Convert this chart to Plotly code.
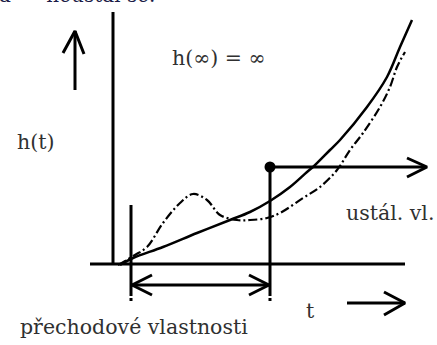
import plotly.graph_objects as go

W, H = 437, 345

# Curves (diagram coordinates: x to the right, y downward in picture pixels)
solid_x = [120, 133, 163, 197, 230, 250, 270, 290, 307, 313, 330, 340, 367, 387, 400, 412]
solid_y = [265, 258, 247, 233, 220, 212, 201, 187, 172, 167, 150, 140, 107, 77, 47, 20]

dd_x = [118, 135, 147, 163, 180, 193, 207, 220, 237, 250, 267, 280, 303, 320, 337, 350, 363, 380, 390, 397, 405]
dd_y = [265, 255, 247, 223, 203, 194, 200, 215, 220, 220, 218, 213, 198, 187, 170, 150, 133, 107, 87, 67, 52]

# Structural lines: each entry is (xs, ys)
axis_lines = [
    ([113, 113], [12, 264]),          # vertical axis
    ([90, 405], [264, 264]),          # horizontal axis
    ([75, 75], [90, 31]),             # up arrow shaft
    ([63, 75, 84], [53, 31, 54]),     # up arrow head
    ([131, 131], [205, 293]),         # left marker
    ([270, 270], [167, 293]),         # right marker
    ([131, 270], [285, 285]),         # double arrow shaft
    ([152, 132, 152], [275, 285, 295]),
    ([249, 269, 249], [275, 285, 295]),
    ([270, 426], [167, 167]),         # steady-state arrow
    ([407, 427, 407], [158, 167, 177]),
    ([347, 405], [303, 303]),         # t arrow
    ([384, 405, 384], [292, 303, 315]),
]
dashed_tails = [
    ([131, 131], [293, 301]),
    ([270, 270], [293, 301]),
]
dot_x, dot_y = [270], [167]

texts = [
    ("h(∞) = ∞", 219, 58),
    ("h(t)", 35, 142),
    ("ustál. vl.", 390, 213),
    ("t", 310, 311),
    ("přechodové vlastnosti", 134, 327),
]

fig = go.Figure()
for xs, ys in axis_lines:
    fig.add_trace(go.Scatter(x=xs, y=ys, mode="lines",
                             line=dict(color="black", width=3), hoverinfo="skip"))
for xs, ys in dashed_tails:
    fig.add_trace(go.Scatter(x=xs, y=ys, mode="lines",
                             line=dict(color="black", width=3, dash="3px,2px"), hoverinfo="skip"))
fig.add_trace(go.Scatter(x=solid_x, y=solid_y, mode="lines",
                         line=dict(color="black", width=2.5, shape="spline"), hoverinfo="skip"))
fig.add_trace(go.Scatter(x=dd_x, y=dd_y, mode="lines",
                         line=dict(color="black", width=2.2, shape="spline", dash="9px,3px,2px,3px"),
                         hoverinfo="skip"))
fig.add_trace(go.Scatter(x=dot_x, y=dot_y, mode="markers",
                         marker=dict(color="black", size=11), hoverinfo="skip"))

for t, x, y in texts:
    fig.add_annotation(x=x, y=y, text=t, showarrow=False, xanchor="center", yanchor="middle",
                       font=dict(family="DejaVu Serif", size=20.5, color="#303030"))

fig.add_annotation(x=0, xshift=-3, y=9, text="a  –  neustál se.", showarrow=False, xanchor="left",
                   yanchor="bottom", font=dict(family="DejaVu Serif", size=20, color="#1c1c48"))

fig.update_layout(
    width=W, height=H, margin=dict(l=0, r=0, t=0, b=0),
    paper_bgcolor="white", plot_bgcolor="white", showlegend=False,
    xaxis=dict(range=[0, W], visible=False, fixedrange=True),
    yaxis=dict(range=[H, 0], visible=False, fixedrange=True),
)
fig.write_html("out.html", config={"displayModeBar": False},
               post_script="document.body.style.margin='0px';")
